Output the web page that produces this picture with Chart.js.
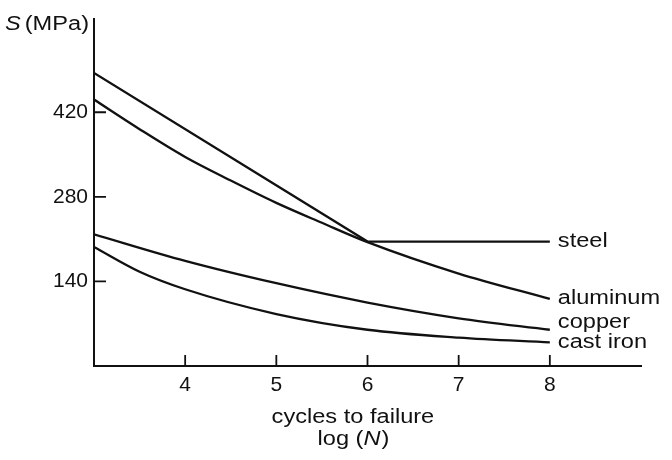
<!DOCTYPE html>
<html>
<head>
<meta charset="utf-8">
<script src="https://cdn.jsdelivr.net/npm/chart.js@4.4.1/dist/chart.umd.min.js"></script>
<style>
  html, body { margin: 0; padding: 0; background: #fff; }
  #wrap { width: 672px; height: 460px; position: relative; }
</style>
</head>
<body>
<div id="wrap"><canvas id="chart"></canvas></div>
<script>
// values
const seriesNames = ["steel", "aluminum", "copper", "cast iron"];

const steelN = [3, 6, 8];
const steelS = [485, 206, 206];

const aluminumN = [3, 3.5, 4, 4.5, 5, 5.5, 6, 7, 8];
const aluminumS = [441, 392, 346, 307, 270, 237, 205, 153, 111];

const copperN = [3, 4, 5, 6, 7, 8];
const copperS = [218, 174, 137, 105, 79, 60];

const castIronN = [3, 3.5, 4, 5, 6, 7, 8];
const castIronS = [197, 156, 127, 86, 60, 47, 39];

const xTicks = [4, 5, 6, 7, 8];
const yTicks = [140, 280, 420];

const INK = "#111111";
const FONT = "'Liberation Sans', Arial, Helvetica, sans-serif";
const SX = 1.18; // the scan's lettering is wider than Arial

function toPoints(xs, ys) {
  return xs.map((x, i) => ({ x: x, y: ys[i] }));
}

function wideText(ctx, str, x, y, align, italic) {
  ctx.save();
  ctx.font = (italic ? "italic " : "") + "20px " + FONT;
  ctx.translate(x, y);
  ctx.scale(SX, 1);
  ctx.textAlign = align;
  ctx.textBaseline = "alphabetic";
  ctx.fillStyle = INK;
  ctx.fillText(str, 0, 0);
  ctx.restore();
}

function textWidth(ctx, str, italic) {
  ctx.save();
  ctx.font = (italic ? "italic " : "") + "20px " + FONT;
  const w = ctx.measureText(str).width * SX;
  ctx.restore();
  return w;
}

const decorations = {
  id: "decorations",
  afterDatasetsDraw(chart) {
    const ctx = chart.ctx;
    const xs = chart.scales.x;
    const ys = chart.scales.y;
    const area = chart.chartArea;

    // inward tick marks
    ctx.save();
    ctx.strokeStyle = INK;
    ctx.lineWidth = 1.8;
    ctx.beginPath();
    xs.ticks.forEach(t => {
      const px = xs.getPixelForValue(t.value);
      ctx.moveTo(px, area.bottom);
      ctx.lineTo(px, area.bottom - 11);
    });
    ys.ticks.forEach(t => {
      const py = ys.getPixelForValue(t.value);
      ctx.moveTo(area.left, py);
      ctx.lineTo(area.left + 12, py);
    });
    ctx.stroke();
    ctx.restore();

    // series names at the end of each curve
    const dy = [5, 5, -2, 6];
    chart.data.datasets.forEach((ds, i) => {
      const pts = chart.getDatasetMeta(i).data;
      const last = pts[pts.length - 1];
      wideText(ctx, ds.label, last.x + 8, last.y + dy[i], "left", false);
    });

    // y axis title: S (MPa)
    const right = area.left - 5;
    const wUnit = textWidth(ctx, "(MPa)", false);
    wideText(ctx, "(MPa)", right, 30, "right", false);
    wideText(ctx, "S", right - wUnit - 4, 30, "right", true);

    // x axis title
    const cx = (xs.getPixelForValue(5) + xs.getPixelForValue(6)) / 2 + 31;
    wideText(ctx, "cycles to failure", cx, 423, "center", false);
    const a = "log (", b = "N", c = ")";
    const wa = textWidth(ctx, a, false), wb = textWidth(ctx, b, true), wc = textWidth(ctx, c, false);
    let x0 = cx - (wa + wb + wc) / 2;
    wideText(ctx, a, x0, 445, "left", false);
    wideText(ctx, b, x0 + wa, 445, "left", true);
    wideText(ctx, c, x0 + wa + wb + 1, 445, "left", false);
  }
};

function lineSet(label, xs, ys, straight) {
  return {
    label: label,
    data: toPoints(xs, ys),
    borderColor: INK,
    borderWidth: 2.3,
    pointRadius: 0,
    fill: false,
    tension: straight ? 0 : 0.4,
    cubicInterpolationMode: straight ? "default" : "monotone"
  };
}

new Chart(document.getElementById("chart"), {
  type: "line",
  data: {
    datasets: [
      lineSet(seriesNames[0], steelN, steelS, true),
      lineSet(seriesNames[1], aluminumN, aluminumS, false),
      lineSet(seriesNames[2], copperN, copperS, false),
      lineSet(seriesNames[3], castIronN, castIronS, false)
    ]
  },
  options: {
    responsive: true,
    maintainAspectRatio: false,
    animation: false,
    layout: { padding: { top: 13, right: 31, left: 0, bottom: 0 } },
    plugins: {
      legend: { display: false },
      tooltip: { enabled: false }
    },
    scales: {
      x: {
        type: "linear",
        min: 3,
        max: 9,
        grid: { display: false, drawTicks: false },
        border: { display: true, color: INK, width: 2 },
        afterBuildTicks: scale => { scale.ticks = xTicks.map(v => ({ value: v })); },
        afterFit: scale => { scale.height = 94; },
        ticks: {
          color: INK,
          padding: 7,
          maxRotation: 0,
          font: { family: FONT, size: 21 }
        }
      },
      y: {
        type: "linear",
        min: 0,
        max: 575,
        grid: { display: false, drawTicks: false },
        border: { display: true, color: INK, width: 2 },
        afterBuildTicks: scale => { scale.ticks = yTicks.map(v => ({ value: v })); },
        afterFit: scale => { scale.width = 94; },
        ticks: {
          color: INK,
          padding: 6,
          font: { family: FONT, size: 21 }
        }
      }
    }
  },
  plugins: [decorations]
});
</script>
</body>
</html>
